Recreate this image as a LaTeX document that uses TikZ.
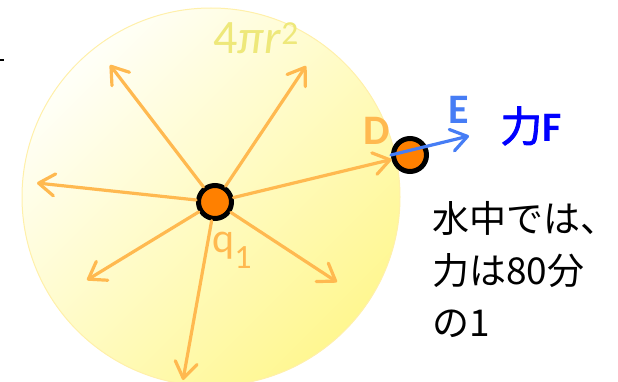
\documentclass[tikz,border=0pt]{standalone}
\usepackage{fontspec}
\setmainfont{Carlito}
\newfontfamily\jpfont{Noto Sans CJK JP}[AutoFakeBold=2]
\usetikzlibrary{arrows.meta,positioning}
\definecolor{field}{RGB}{255,185,80}
\definecolor{chargeorange}{RGB}{255,128,0}
\definecolor{areayellow}{RGB}{238,232,122}
\definecolor{efield}{RGB}{70,125,245}
\definecolor{force}{RGB}{0,0,255}
\definecolor{spherelight}{RGB}{255,255,248}
\definecolor{spheremid}{RGB}{255,252,215}
\definecolor{spheredark}{RGB}{255,247,145}
\definecolor{sphereline}{RGB}{255,240,170}

\begin{document}
\begin{tikzpicture}[
  x=1pt, y=-1pt,
  every node/.style={inner sep=0pt},
  fieldline/.style={line width=3.2pt, line cap=round,
    -{Straight Barb[length=16pt,width=22pt,round]}},
  charge/.style={circle, draw=black, line width=5pt, fill=chargeorange,
    minimum size=33pt},
  >=Stealth
]
\useasboundingbox (0,0) rectangle (618,382);
\begin{scope}
\clip (0,0) rectangle (618,382);

% sphere of radius r around q1
\shadedraw[top color=spherelight, middle color=spheremid, bottom color=spheredark,
  shading angle=45, draw=sphereline, line width=1pt] (211,197) circle (189);

% charges
\node[charge] (q1) at (215,202) {};
\node[charge] (dchg) at (410,155) {};

% field lines
\foreach \n/\x/\y in {a/110/65, b/306/66, c/37/183, d/87/280, e/183/380, f/337/282}
  \coordinate (tip\n) at (\x,\y);
\foreach \n in {a,b,c,d,e,f}
  \draw[fieldline, field] (q1) -- (tip\n);
\draw[fieldline, field] (q1) -- (dchg);

% field at D
\coordinate (etip) at (469,136);
\draw[fieldline, efield] (dchg.west) -- (etip);

% labels
\node[text=areayellow, font=\fontsize{48}{48}\selectfont] (area) at (256,38)
  {4\textit{π}\textit{r}\textsuperscript{2}};
\node[text=field, font=\bfseries\fontsize{42}{42}\selectfont] (dlabel) at (377,131) {D};
\node[text=efield, font=\bfseries\fontsize{42}{42}\selectfont] (elabel) at (459,110) {E};
\node[text=force, font=\bfseries\fontsize{42}{42}\selectfont] (flabel) at (531,126)
  {{\jpfont 力}F};
\node[text=field, font=\fontsize{42}{42}\selectfont, anchor=base west] (qlabel) at (212,252)
  {q\raisebox{-0.4em}{\fontsize{34}{34}\selectfont 1}};
\node[anchor=north west, align=left, font=\jpfont\fontsize{37}{52}\selectfont] (note)
  at (432,201) {水中では、\\力は80分\\の1};

\draw[black, line width=2pt] (0,60) -- (4,60);
\end{scope}
\end{tikzpicture}
\end{document}
